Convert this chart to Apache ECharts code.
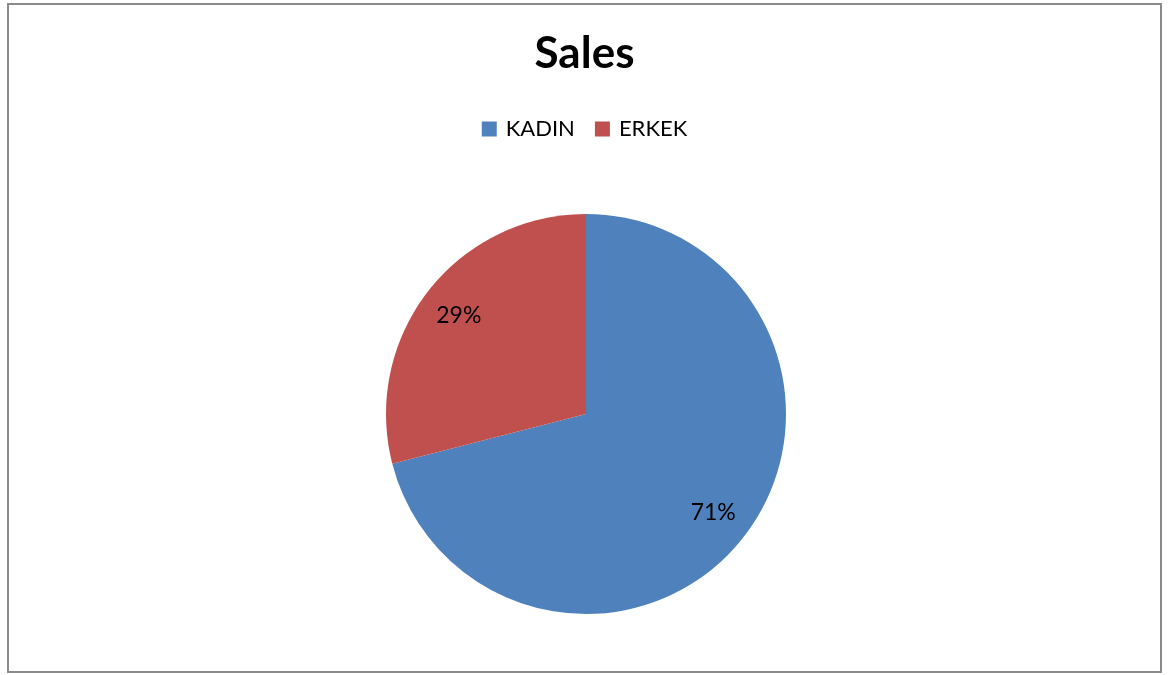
<!DOCTYPE html>
<html>
<head>
<meta charset="utf-8">
<script src="https://cdn.jsdelivr.net/npm/echarts@6/dist/echarts.min.js"></script>
<style>
html,body{margin:0;padding:0;background:#fff;}
#chart{position:absolute;left:7px;top:3px;width:1155px;height:670px;border:2px solid #8a8a8a;box-sizing:border-box;}
</style>
</head>
<body>
<div id="chart"></div>
<script>
const chartTitle = 'Sales';
const categories = ['KADIN', 'ERKEK'];
const values = [71, 29];
const colors = ['#4F81BD', '#C0504D'];

const chart = echarts.init(document.getElementById('chart'), null, {renderer: 'canvas'});
const FONT = 'Lato, "Open Sans", sans-serif';
const baseData = categories.map((c, i) => ({name: c, value: values[i], itemStyle: {color: colors[i]}}));
const labelData = categories.map((c, i) => ({name: c, value: values[i], itemStyle: {color: 'rgba(0,0,0,0)'}}));

chart.setOption({
  animation: false,
  backgroundColor: '#fff',
  title: {
    text: chartTitle,
    left: 'center',
    top: 22,
    textStyle: {fontFamily: FONT, fontWeight: 'bold', fontSize: 44, color: '#000'}
  },
  legend: {
    data: categories,
    top: 108,
    left: 'center',
    icon: 'rect',
    itemWidth: 15,
    itemHeight: 15,
    itemGap: 20,
    textStyle: {fontFamily: FONT, fontSize: 22, color: '#000', padding: [0, 0, 0, 4]}
  },
  series: [
    {
      type: 'pie',
      center: [577, 409],
      radius: [0, 200],
      startAngle: 90,
      clockwise: true,
      label: {show: false},
      labelLine: {show: false},
      silent: true,
      data: baseData
    },
    {
      type: 'pie',
      center: [577, 409],
      radius: [116, 200],
      startAngle: 90,
      clockwise: true,
      silent: true,
      label: {
        show: true,
        position: 'inside',
        formatter: p => Math.round(p.percent) + '%',
        fontFamily: FONT,
        fontSize: 23,
        color: '#000'
      },
      labelLine: {show: false},
      data: labelData
    }
  ]
});
</script>
</body>
</html>
